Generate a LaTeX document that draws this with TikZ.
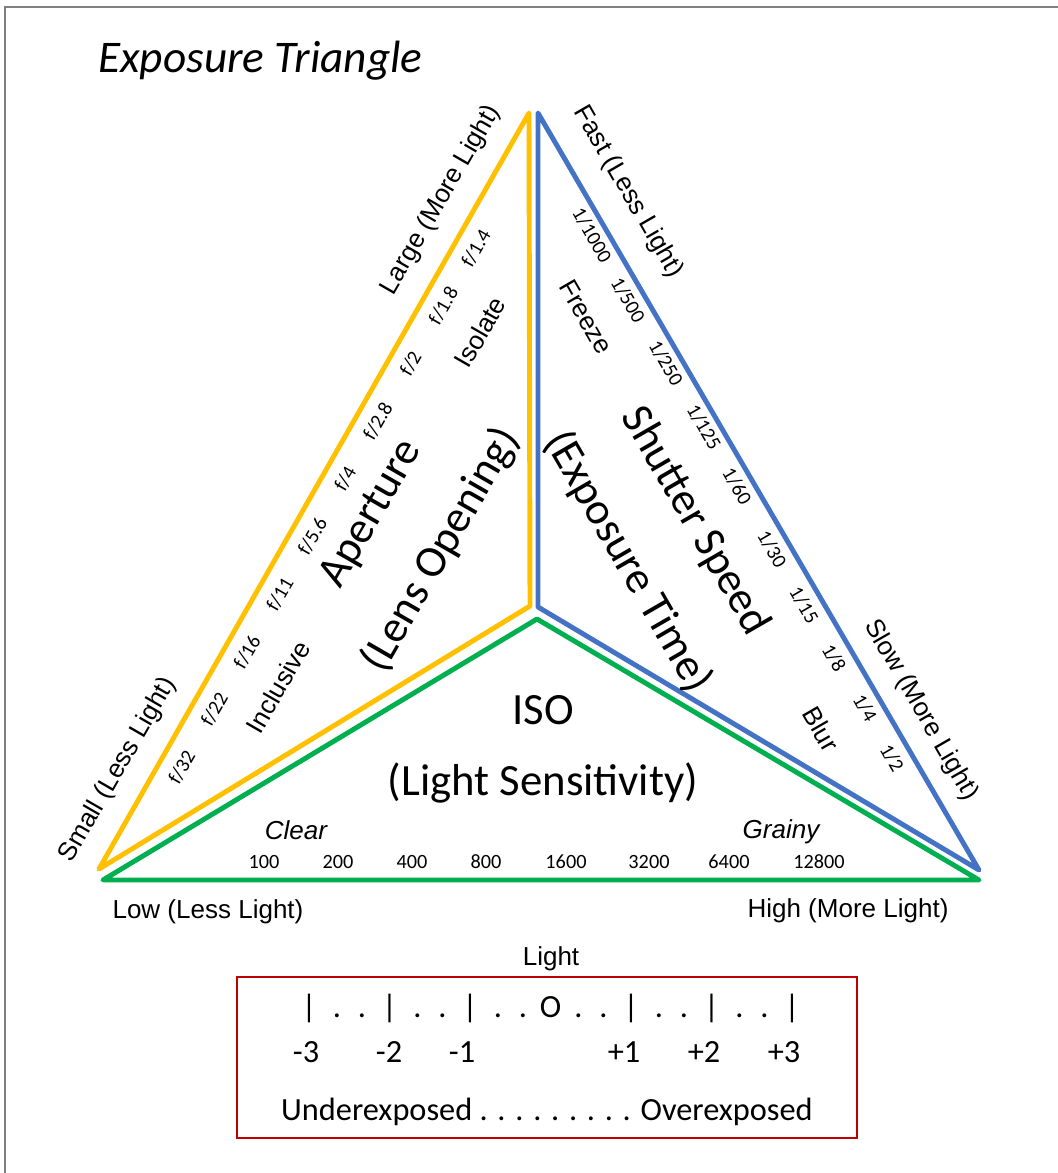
\documentclass[tikz,border=0pt]{standalone}
\usepackage{fontspec}
\setmainfont{Carlito}
\newfontfamily\arialfont{Liberation Sans}
\usetikzlibrary{positioning}

\definecolor{apyellow}{RGB}{255,192,0}
\definecolor{ssblue}{RGB}{68,114,196}
\definecolor{isogreen}{RGB}{0,176,80}
\definecolor{boxred}{RGB}{192,0,0}

\begin{document}
\begin{tikzpicture}[x=0.025cm, y=-0.025cm,
        edgeline/.style={line width=3.5pt, line join=round},
        sidelbl/.style={inner sep=0pt, font=\arialfont\fontsize{18.5}{21}\selectfont},
        notelbl/.style={inner sep=0pt, font=\arialfont\itshape\fontsize{18.5}{21}\selectfont},
        stopnum/.style={inner sep=0pt, font=\fontsize{14.4}{17}\selectfont},
        biglbl/.style={inner sep=0pt, font=\fontsize{31.8}{36}\selectfont},
        boxtxt/.style={inner sep=0pt, font=\fontsize{23}{27}\selectfont}]
        \useasboundingbox (0,0) rectangle (1058,1173);
        \draw[gray, line width=1.4pt] (5,1173) -- (5,7) -- (1058,7);

        \node[anchor=base west, inner sep=0pt, font=\itshape\fontsize{32.2}{36}\selectfont] (title) at (98,72) {Exposure Triangle};

        \coordinate (ytop) at (529,113);
        \coordinate (ymid) at (530,606);
        \coordinate (yleft) at (99,869);
        \coordinate (btop) at (538,113);
        \coordinate (bmid) at (538,607);
        \coordinate (bright) at (979,870);
        \coordinate (gleft) at (103,880);
        \coordinate (gtop) at (537,619);
        \coordinate (gright) at (979,880);

        \draw[edgeline, apyellow] (ytop) -- (ymid) -- (yleft) -- cycle;
        \draw[edgeline, ssblue] (btop) -- (bmid) -- (bright) -- cycle;
        \draw[edgeline, isogreen] (gleft) -- (gtop) -- (gright) -- cycle;

        \node[sidelbl, rotate=60] (large) at (441,200) {Large (More Light)};
        \node[sidelbl, rotate=60] (small) at (118,770) {Small (Less Light)};
        \node[sidelbl, rotate=-60] (fast) at (628,192) {Fast (Less Light)};
        \node[sidelbl, rotate=-60] (slow) at (921,710) {Slow (More Light)};
        \node[sidelbl, rotate=60] (isolate) at (480,332) {Isolate};
        \node[sidelbl, rotate=60] (inclusive) at (278,687) {Inclusive};
        \node[sidelbl, rotate=-60] (freeze) at (586,317) {Freeze};
        \node[sidelbl, rotate=-60] (blur) at (821,729) {Blur};

        \foreach \fval [count=\i from 0] in {1.4,1.8,2,2.8,4,5.6,11,16,22,32}
            \node[stopnum, rotate=60] (f\i) at ({476-32.7*\i},{248+57.7*\i}) {f/\fval};

        \foreach \sval/\sx/\sy [count=\i] in {1000/592/235, 500/628/300, 250/666/363, 125/704/427, 60/737/486, 30/772/549, 15/804/605, 8/834/658, 4/865/708, 2/892/758}
            \node[stopnum, rotate=-60] (s\i) at (\sx,\sy) {1/\sval};

        \foreach \iso/\ix in {100/264, 200/338, 400/412, 800/486, 1600/566, 3200/649, 6400/729, 12800/819}
            \node[stopnum, anchor=base] (iso\iso) at (\ix,868) {\iso};

        \node[notelbl, anchor=base] (clear) at (296,839) {Clear};
        \node[notelbl, anchor=base] (grainy) at (781,838) {Grainy};

        \node[biglbl, rotate=60] (aperture) at (372,514) {Aperture};
        \node[biglbl, rotate=60] (lens) at (441,550) {(Lens Opening)};
        \node[biglbl, rotate=-60] (shutter) at (695,521) {Shutter Speed};
        \node[biglbl, rotate=-60] (exptime) at (628,562) {(Exposure Time)};
        \node[biglbl, anchor=base] (iso) at (543,724) {ISO};
        \node[biglbl, anchor=base] (sens) at (543,795) {(Light Sensitivity)};

        \node[sidelbl, anchor=base] (low) at (208,918) {Low (Less Light)};
        \node[sidelbl, anchor=base] (high) at (848,917) {High (More Light)};
        \node[sidelbl, anchor=base] (light) at (551,965) {Light};

        \draw[boxred, line width=2pt] (237,977) rectangle (857,1138);

        \foreach \i in {0,...,6}{
            \pgfmathsetmacro\mx{309+80.5*\i}
            \ifnum\i=3
                \node[boxtxt, anchor=base] (mark\i) at (\mx,1017) {O};
            \else
                \node[boxtxt, anchor=base] (mark\i) at (\mx,1017) {|};
            \fi
        }
        \foreach \i in {0,...,5}
            \foreach \d in {28,53}
                \node[boxtxt, anchor=base] (dot\i-\d) at ({309+80.5*\i+\d},1017) {.};

        \foreach \lab/\lx [count=\i] in {-3/306, -2/389, -1/462, +1/624, +2/704, +3/784}
            \node[boxtxt, anchor=base] (ev\i) at (\lx,1062) {\lab};

        \node[boxtxt, anchor=base] (expo) at (547,1120) {Underexposed . . . . . . . . . Overexposed};

    \end{tikzpicture}
\end{document}
